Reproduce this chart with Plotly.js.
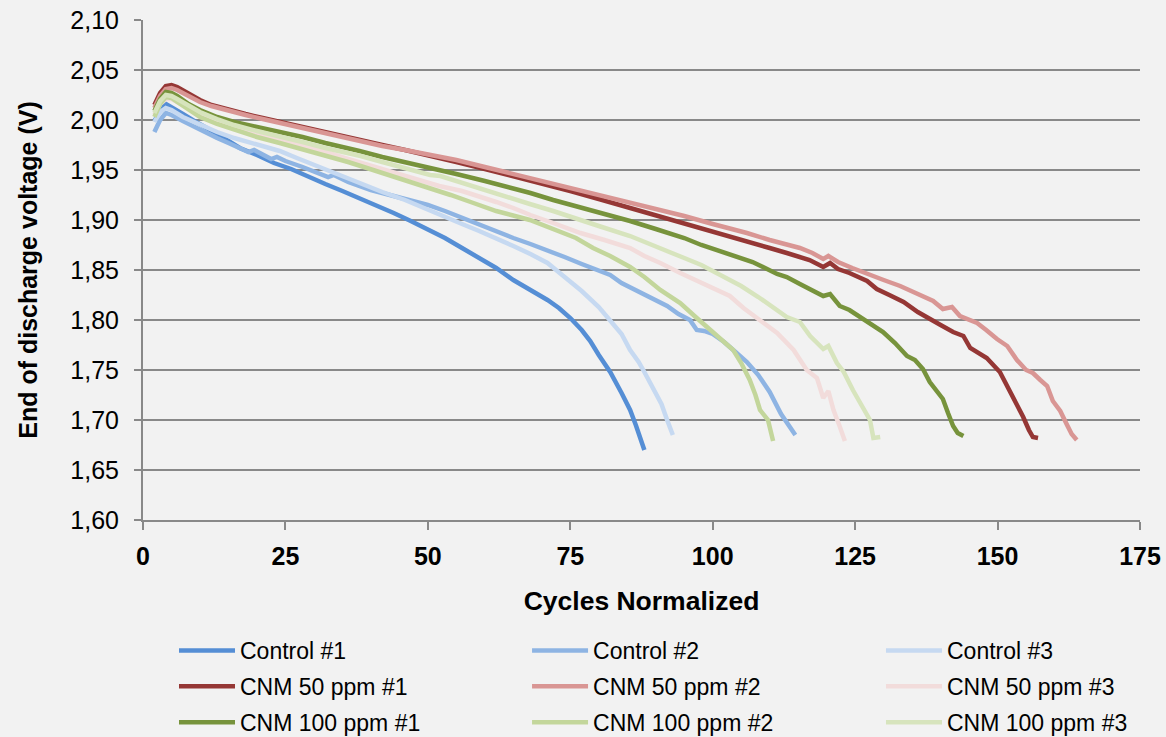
<!DOCTYPE html>
<html>
<head>
<meta charset="utf-8">
<script src="https://cdn.plot.ly/plotly-3.0.1.min.js"></script>
<style>
  html, body { margin: 0; padding: 0; background: #f2f2f2; }
  #chart { width: 1166px; height: 737px; }
</style>
</head>
<body>
<div id="chart"></div>
<script>
// End-of-discharge voltage per normalized cycle for each cell.
const control1X = [2, 3, 4, 5, 7, 9, 11, 13, 15, 17, 20, 23, 26, 29, 32, 35, 38, 41, 44, 47, 50, 53, 56, 59, 62, 65, 68, 71, 73, 75, 77, 78.5, 80, 82, 84, 85.5, 86.5, 87.5, 88];
const control1Y = [1.999, 2.009, 2.016, 2.013, 2.006, 1.999, 1.993, 1.986, 1.979, 1.972, 1.965, 1.957, 1.951, 1.943, 1.936, 1.929, 1.922, 1.914, 1.907, 1.899, 1.891, 1.882, 1.872, 1.862, 1.852, 1.840, 1.830, 1.820, 1.812, 1.802, 1.790, 1.779, 1.765, 1.748, 1.727, 1.710, 1.695, 1.680, 1.670];

const control2X = [2, 3, 4, 5, 7, 9, 11, 13, 15, 17, 18.5, 19.5, 21, 22.5, 23.5, 25, 28, 31, 32.5, 33.5, 36, 40, 44, 48, 50, 53, 56, 59, 62, 65, 68, 71, 74, 77, 80, 82, 84, 86, 88, 90, 92, 94, 96, 97.2, 98.5, 100, 102, 104, 106, 108, 110, 112, 113.5, 114.5];
const control2Y = [1.988, 2.000, 2.007, 2.005, 1.999, 1.993, 1.988, 1.982, 1.977, 1.972, 1.968, 1.970, 1.965, 1.961, 1.963, 1.959, 1.953, 1.947, 1.943, 1.945, 1.938, 1.930, 1.924, 1.918, 1.915, 1.909, 1.902, 1.895, 1.889, 1.882, 1.876, 1.870, 1.863, 1.856, 1.850, 1.845, 1.837, 1.831, 1.826, 1.820, 1.814, 1.806, 1.800, 1.790, 1.789, 1.786, 1.778, 1.768, 1.758, 1.745, 1.728, 1.706, 1.694, 1.685];

const control3X = [2, 3, 4, 5, 7, 10, 13, 16, 19, 22, 24, 27, 30, 34, 38, 42, 46, 50, 53, 56, 59, 62, 65, 68, 71, 74, 77, 80, 82, 84, 85.5, 87, 88, 89.5, 91, 92, 93];
const control3Y = [1.998, 2.008, 2.012, 2.010, 2.003, 1.995, 1.988, 1.982, 1.977, 1.972, 1.969, 1.962, 1.955, 1.946, 1.937, 1.928, 1.920, 1.910, 1.903, 1.896, 1.889, 1.882, 1.874, 1.866, 1.857, 1.843, 1.829, 1.813, 1.800, 1.786, 1.770, 1.758, 1.748, 1.732, 1.716, 1.700, 1.685];

const cnm50a1X = [2, 3, 4, 5, 6, 8, 10, 12, 15, 18, 21, 24, 27, 30, 34, 38, 42, 46, 50, 55, 60, 65, 70, 75, 80, 85, 90, 95, 100, 103, 106, 110, 113, 115.3, 117, 119.4, 120.6, 122, 124, 127.1, 128.8, 131, 133.5, 136, 138, 140, 142.2, 144, 145.2, 146.5, 148.1, 150.4, 152.7, 154.5, 155.5, 156.2, 157.1];
const cnm50a1Y = [2.015, 2.027, 2.034, 2.035, 2.033, 2.026, 2.020, 2.015, 2.010, 2.006, 2.002, 1.998, 1.994, 1.990, 1.985, 1.980, 1.975, 1.970, 1.965, 1.958, 1.951, 1.944, 1.936, 1.929, 1.921, 1.913, 1.905, 1.897, 1.888, 1.884, 1.879, 1.872, 1.867, 1.863, 1.860, 1.853, 1.857, 1.851, 1.847, 1.839, 1.831, 1.825, 1.818, 1.808, 1.801, 1.795, 1.788, 1.784, 1.772, 1.767, 1.762, 1.748, 1.724, 1.703, 1.690, 1.683, 1.682];

const cnm50a2X = [2, 3, 4, 5, 6, 8, 10, 12, 15, 18, 21, 24, 27, 30, 34, 38, 42, 46, 50, 55, 60, 65, 70, 75, 80, 85, 90, 95, 100, 103, 106, 110, 113, 115.3, 117.5, 119.4, 120.3, 122, 124.5, 127.1, 130, 132.9, 136, 138.7, 140.4, 142, 143.4, 145, 146.4, 148, 149.9, 151.7, 153.4, 155, 156.2, 157.5, 158.7, 159.7, 161, 162.2, 163, 163.9];
const cnm50a2Y = [2.012, 2.024, 2.031, 2.032, 2.030, 2.024, 2.018, 2.014, 2.009, 2.005, 2.001, 1.997, 1.993, 1.989, 1.984, 1.979, 1.974, 1.970, 1.966, 1.960, 1.953, 1.946, 1.939, 1.932, 1.926, 1.919, 1.912, 1.904, 1.896, 1.892, 1.887, 1.880, 1.875, 1.872, 1.867, 1.861, 1.864, 1.858, 1.852, 1.846, 1.840, 1.834, 1.826, 1.819, 1.811, 1.813, 1.804, 1.800, 1.797, 1.790, 1.781, 1.774, 1.760, 1.750, 1.747, 1.740, 1.734, 1.719, 1.709, 1.695, 1.686, 1.680];

const cnm50a3X = [2, 3, 4, 5, 6, 8, 10, 13, 16, 20, 24, 28, 32, 36, 40, 44, 48, 52, 56, 59, 62, 65, 68, 72, 76.8, 81, 85.5, 88, 90.8, 94.3, 97, 99.6, 103, 105.4, 108, 111.3, 114.2, 116.5, 118.3, 119.4, 120.3, 121.2, 122.2, 123.2];
const cnm50a3Y = [2.005, 2.016, 2.021, 2.021, 2.018, 2.011, 2.005, 1.998, 1.993, 1.987, 1.981, 1.975, 1.968, 1.961, 1.954, 1.947, 1.940, 1.934, 1.929, 1.924, 1.918, 1.912, 1.905, 1.897, 1.887, 1.880, 1.872, 1.864, 1.857, 1.847, 1.840, 1.834, 1.824, 1.812, 1.801, 1.787, 1.770, 1.750, 1.742, 1.722, 1.729, 1.710, 1.695, 1.679];

const cnm100a1X = [2, 3, 4, 5, 6, 8, 10, 13, 16, 20, 24, 28, 32, 36, 38, 42, 46, 50, 55, 60, 65, 68, 72, 76, 80, 85.5, 90, 95, 98, 103, 107, 111.3, 113, 115.3, 117, 119.4, 120.6, 122.3, 124, 127.1, 129.9, 132, 134.1, 135.5, 136.9, 138.1, 139.2, 140.4, 141.3, 142.2, 143, 144];
const cnm100a1Y = [2.009, 2.021, 2.028, 2.027, 2.024, 2.016, 2.010, 2.003, 1.998, 1.993, 1.989, 1.983, 1.977, 1.972, 1.969, 1.963, 1.958, 1.953, 1.946, 1.939, 1.932, 1.927, 1.920, 1.914, 1.908, 1.899, 1.891, 1.882, 1.875, 1.866, 1.858, 1.846, 1.843, 1.836, 1.831, 1.824, 1.826, 1.814, 1.810, 1.799, 1.788, 1.777, 1.764, 1.760, 1.751, 1.738, 1.730, 1.721, 1.707, 1.694, 1.687, 1.684];

const cnm100a2X = [2, 3, 4, 5, 6, 8, 10, 13, 16, 20, 24, 28, 32, 36, 38.2, 42, 46, 50, 54, 58, 62, 67.9, 72, 76, 79, 82, 85.5, 88, 90.8, 94.3, 97, 99.6, 101.5, 103.6, 105, 106.5, 107.5, 108.3, 109.7, 110.2, 110.6];
const cnm100a2Y = [2.003, 2.016, 2.023, 2.022, 2.018, 2.010, 2.003, 1.996, 1.990, 1.983, 1.977, 1.971, 1.965, 1.958, 1.954, 1.947, 1.940, 1.933, 1.925, 1.917, 1.909, 1.900, 1.891, 1.882, 1.872, 1.864, 1.853, 1.843, 1.830, 1.817, 1.803, 1.790, 1.781, 1.770, 1.757, 1.740, 1.725, 1.710, 1.700, 1.690, 1.679];

const cnm100a3X = [2, 3, 4, 5, 6, 8, 10, 13, 16, 20, 24, 28, 32, 36, 38.2, 42, 46, 50.4, 52.2, 56, 60, 64, 67.9, 72, 76, 80, 85.5, 88, 90.8, 95, 98, 102.5, 105, 108, 111.3, 113, 115.3, 117.1, 119.4, 120.3, 121.8, 123, 124.6, 126.4, 127.6, 128.2, 129.4];
const cnm100a3Y = [2.007, 2.019, 2.025, 2.024, 2.021, 2.014, 2.008, 2.001, 1.995, 1.989, 1.984, 1.978, 1.972, 1.967, 1.964, 1.958, 1.952, 1.945, 1.944, 1.937, 1.930, 1.923, 1.916, 1.909, 1.902, 1.894, 1.884, 1.878, 1.871, 1.862, 1.855, 1.841, 1.834, 1.823, 1.810, 1.803, 1.798, 1.784, 1.771, 1.774, 1.757, 1.748, 1.730, 1.713, 1.700, 1.682, 1.683];

const seriesNames = ['Control #1', 'Control #2', 'Control #3',
                     'CNM 50 ppm #1', 'CNM 50 ppm #2', 'CNM 50 ppm #3',
                     'CNM 100 ppm #1', 'CNM 100 ppm #2', 'CNM 100 ppm #3'];
const seriesColors = ['#558ed5', '#8eb4e3', '#c6d9f1',
                      '#953735', '#d99694', '#f2dcdb',
                      '#77933c', '#c3d69b', '#d7e4bd'];
const seriesX = [control1X, control2X, control3X, cnm50a1X, cnm50a2X, cnm50a3X, cnm100a1X, cnm100a2X, cnm100a3X];
const seriesY = [control1Y, control2Y, control3Y, cnm50a1Y, cnm50a2Y, cnm50a3Y, cnm100a1Y, cnm100a2Y, cnm100a3Y];
// replicate #1, #2, #3 go to the first, second and third legend column
const legendIds = ['legend', 'legend2', 'legend3'];

const FONT = 'Liberation Sans, Arial, sans-serif';
const GRID = '#898989';

const traces = seriesNames.map((name, i) => ({
  type: 'scatter',
  mode: 'lines',
  name: name,
  x: seriesX[i],
  y: seriesY[i],
  line: { color: seriesColors[i], width: 4.5, shape: 'linear' },
  legend: legendIds[i % 3],
  legendgroup: 'g' + i,
  hoverinfo: 'x+y+name'
}));

function legendColumn(xPos) {
  return {
    x: xPos, xanchor: 'left',
    y: -0.218, yanchor: 'top',
    orientation: 'v',
    bgcolor: 'rgba(0,0,0,0)',
    font: { family: FONT, size: 23, color: '#000000' },
    itemwidth: 56,
    tracegroupgap: 3
  };
}

const layout = {
  width: 1166,
  height: 737,
  paper_bgcolor: '#f2f2f2',
  plot_bgcolor: '#f2f2f2',
  separators: ', ',
  margin: { l: 143, r: 26, t: 20, b: 217, autoexpand: false },
  font: { family: FONT, color: '#000000' },
  showlegend: true,
  xaxis: {
    range: [0, 175],
    tick0: 0, dtick: 25,
    showgrid: false,
    zeroline: false,
    showline: true, linecolor: GRID, linewidth: 2,
    ticks: 'outside', ticklen: 8, tickwidth: 2, tickcolor: GRID,
    ticklabelstandoff: 5,
    tickfont: { family: FONT, size: 25, weight: 'bold', color: '#000000' },
    title: { text: 'Cycles Normalized', standoff: 22,
             font: { family: FONT, size: 26.5, weight: 'bold', color: '#000000' } }
  },
  yaxis: {
    range: [1.6, 2.1],
    tick0: 1.6, dtick: 0.05,
    tickformat: '.2f',
    showgrid: true, gridcolor: GRID, gridwidth: 2,
    zeroline: false,
    showline: true, linecolor: GRID, linewidth: 2,
    ticks: 'outside', ticklen: 7, tickwidth: 2, tickcolor: GRID,
    ticklabelstandoff: 10,
    tickfont: { family: FONT, size: 25, color: '#000000' },
    title: { text: 'End of discharge voltage (V)', standoff: 26,
             font: { family: FONT, size: 25, weight: 'bold', color: '#000000' } }
  },
  legend: legendColumn(0.0311),
  legend2: legendColumn(0.3852),
  legend3: legendColumn(0.7402)
};

Plotly.newPlot('chart', traces, layout, { displayModeBar: false, staticPlot: true });
</script>
</body>
</html>
